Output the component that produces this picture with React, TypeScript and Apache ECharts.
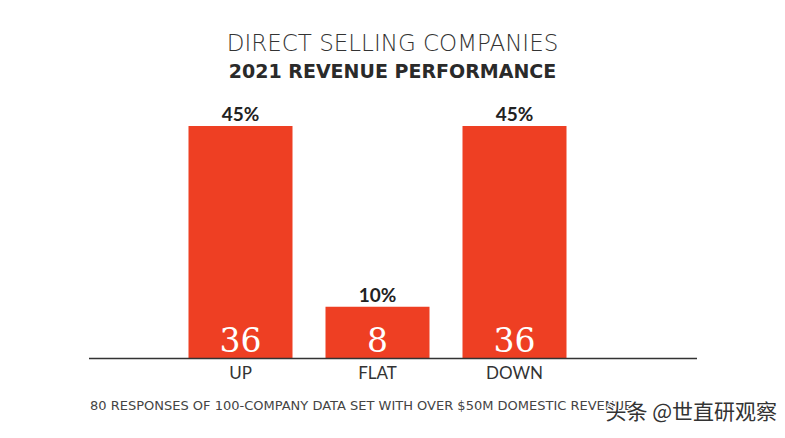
import React, { useEffect, useRef } from "react";
import * as echarts from "echarts";

const categories = ["UP", "FLAT", "DOWN"];
const shares = [45, 10, 45];
const counts = [36, 8, 36];
const titleLine1 = "DIRECT SELLING COMPANIES";
const titleLine2 = "2021 REVENUE PERFORMANCE";
const footnote = "80 RESPONSES OF 100-COMPANY DATA SET WITH OVER $50M DOMESTIC REVENUE";
const watermark = "头条 @世直研观察";

const RED = "#EE3F23";

export default function App() {
  const ref = useRef<HTMLDivElement>(null);
  useEffect(() => {
    if (!ref.current) return;
    const chart = echarts.init(ref.current, null, { renderer: "svg" });
    chart.setOption({
      animation: false,
      backgroundColor: "#ffffff",
      grid: { left: 172, width: 411, top: 126, bottom: 79.5, containLabel: false },
      xAxis: {
        type: "category",
        data: categories,
        axisLine: { show: false },
        axisTick: { show: false },
        axisLabel: {
          color: "#333",
          fontFamily: "Lato",
          fontSize: 17,
          margin: 5,
        },
      },
      yAxis: {
        type: "value",
        min: 0,
        max: 45,
        show: false,
        splitLine: { show: false },
      },
      graphic: [
        {
          type: "text",
          left: "center",
          top: 31,
          style: {
            text: titleLine1,
            font: "300 23px 'DejaVu Sans'",
            fill: "#333",
          },
        },
        {
          type: "text",
          left: "center",
          top: 61,
          style: {
            text: titleLine2,
            font: "bold 19px 'DejaVu Sans'",
            fill: "#2a2a2a",
          },
        },
        {
          type: "line",
          shape: { x1: 89, y1: 358.5, x2: 697, y2: 358.5 },
          style: { stroke: "#333", lineWidth: 1.5 },
          z: 10,
        },
        {
          type: "text",
          left: 90,
          top: 399,
          style: {
            text: footnote,
            font: "13px 'DejaVu Sans'",
            fill: "#444",
          },
        },
        {
          type: "text",
          right: 7,
          top: 398,
          style: {
            text: watermark,
            font: "21px 'Noto Sans CJK SC'",
            fill: "#333",
            stroke: "#fff",
            lineWidth: 2,
          },
          z: 20,
        },
      ],
      series: [
        {
          type: "bar",
          data: shares,
          barWidth: 104,
          itemStyle: { color: RED },
          label: {
            show: true,
            position: "top",
            distance: 3,
            formatter: (p: any) => p.value + "%",
            color: "#222",
            fontFamily: "Lato",
            fontWeight: "bold",
            fontSize: 19,
          },
        },
        {
          type: "bar",
          data: shares,
          barWidth: 104,
          barGap: "-100%",
          itemStyle: { color: "rgba(0,0,0,0)" },
          label: {
            show: true,
            position: "insideBottom",
            distance: 2,
            formatter: (p: any) => String(counts[p.dataIndex]),
            color: "#fff",
            fontFamily: "'DejaVu Serif', serif",
            fontSize: 33,
          },
          z: 5,
        },
      ],
    });
    return () => chart.dispose();
  }, []);
  return <div ref={ref} style={{ width: 785, height: 438, margin: -8 }} />;
}
